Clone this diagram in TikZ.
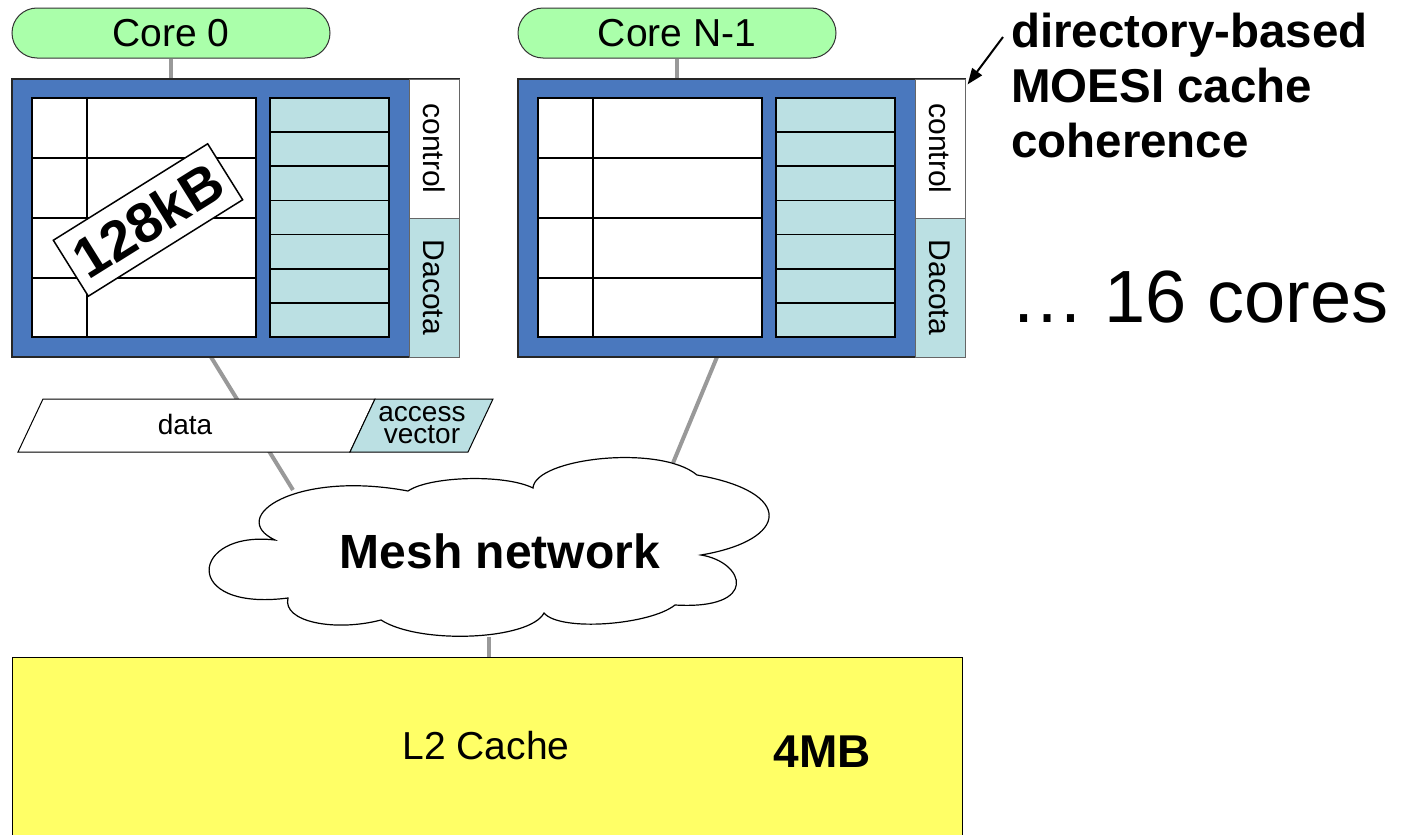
\documentclass[tikz,border=0pt]{standalone}
\usepackage{fontspec}
\setmainfont{Liberation Sans}
\usetikzlibrary{arrows.meta}

\definecolor{coregreen}{HTML}{AAFFAA}
\definecolor{tileblue}{HTML}{4A78BE}
\definecolor{tagteal}{HTML}{BBE0E3}
\definecolor{ltwo}{HTML}{FFFF66}
\definecolor{wire}{HTML}{999999}

\newcommand\fsz[2]{\fontsize{#1}{#2}\selectfont}

\begin{document}
\begin{tikzpicture}[x=1pt,y=-1pt,
  wirelink/.style={draw=wire,line width=4pt},
  corepill/.style={draw=black!80,line width=1pt,fill=coregreen,rounded corners=25pt,
    minimum width=318pt,minimum height=50pt,inner sep=0pt,font=\fsz{39}{47}},
  tile/.style={draw=black!85,fill=tileblue,line width=1.2pt,
    minimum width=447pt,minimum height=278pt,inner sep=0pt},
  gridline/.style={draw=black,line width=1.8pt},
  stripbox/.style={draw=black!60,line width=1pt},
  sidelabel/.style={rotate=-90,font=\fsz{30}{36},inner sep=0pt},
  outline/.style={draw=black,line width=1.2pt},
]
\useasboundingbox (0,0) rectangle (1409,835);

% anchor points of the slanted links
\coordinate (tile0port) at (211,357);
\coordinate (tileNport) at (717,357);
\coordinate (cloudW) at (293,490);
\coordinate (cloudNE) at (673,463);
\coordinate (cloudS) at (489,637);
\coordinate (notetail) at (1003,37);

% links to the network (behind everything)
\draw[wirelink] (tile0port) -- (cloudW);
\draw[wirelink] (tileNport) -- (cloudNE);

% cores
\node[corepill] (core0) at (171,33) {Core 0};
\node[corepill] (coreN) at (677,33) {Core N-1};

% private cache tiles
\node[tile] (tile0) at (235.5,218) {};
\node[tile] (tileN) at (741.5,218) {};
\draw[wirelink] (core0.south) -- (core0.south |- tile0.north);
\draw[wirelink] (coreN.south) -- (coreN.south |- tileN.north);

\foreach \ox in {0,506} {
  \begin{scope}[xshift=\ox pt]
    % control / Dacota strip
    \draw[stripbox,fill=white] (409,79) rectangle (459,218);
    \draw[stripbox,fill=tagteal] (409,218) rectangle (459,357);
    % data array
    \draw[gridline,fill=white] (32,98) rectangle (256,337);
    \draw[gridline] (87,98) -- (87,337);
    \foreach \yy in {158,218,278} \draw[gridline] (32,\yy) -- (256,\yy);
    % access vector column
    \draw[gridline,fill=tagteal] (270,98) rectangle (389,337);
    \foreach \k in {1,...,6} \draw[gridline] (270,{98+\k*34.14}) -- (389,{98+\k*34.14});
  \end{scope}
  \node[sidelabel] (ctl\ox) at (434+\ox,148.5) {control};
  \node[sidelabel] (dac\ox) at (434+\ox,287.5) {Dacota};
}

% capacity tag
\node[draw=black,fill=white,line width=1.5pt,rotate=32,minimum width=182pt,
  minimum height=66pt,inner sep=0pt,font=\bfseries\fsz{56}{64}] (size0) at (148,220) {128kB};

% line layout
\draw[outline,line width=1pt,fill=white] (43,399) -- (375,399) -- (350,452) -- (18,452) -- cycle;
\draw[outline,line width=1pt,fill=tagteal] (375,399) -- (493,399) -- (468,452) -- (350,452) -- cycle;
\node[font=\fsz{28}{22}] (datalbl) at (185,424) {data};
\node[align=center,font=\fsz{28}{22},inner sep=0pt] (avlbl) at (422,425) {access\\vector};

% mesh network cloud
\draw[outline,fill=white]
  (275,540) .. controls (226,517) and (296,470) .. (408,491)
  .. controls (430,476) and (505,474) .. (533,488)
  .. controls (535,458) and (660,444) .. (697,475)
  .. controls (795,492) and (790,540) .. (701,555)
  .. controls (745,562) and (760,610) .. (675,605)
  .. controls (650,625) and (560,632) .. (544,613)
  .. controls (530,640) and (420,645) .. (381,620)
  .. controls (335,632) and (282,622) .. (288,598)
  .. controls (180,612) and (190,530) .. (275,540) -- cycle;
\node[font=\bfseries\fsz{48}{58}] (mesh) at (500,551) {Mesh network};

% shared L2
\draw[wirelink] (cloudS) -- (cloudS |- 0,657);
\node[draw=black,fill=ltwo,line width=1pt,minimum width=950pt,minimum height=190pt,
  anchor=north west,inner sep=0pt] (l2) at (12,657) {};
\node[font=\fsz{39}{47}] (l2lbl) at (486,746) {L2 Cache};
\node[font=\bfseries\fsz{46}{55}] (l2size) at (822,752) {4MB};

% annotations
\draw[-{Triangle[length=16pt,width=12pt]},line width=2pt] (notetail) -- ([shift={(2,6)}]tileN.north east);
\node[anchor=north west,align=left,inner sep=0pt,font=\bfseries\fsz{47.5}{55}] (note) at (1011,13)
  {directory-based\\MOESI cache\\coherence};
\node[anchor=base west,inner sep=0pt,font=\fsz{74}{88}] (count) at (1010,322) {… 16 cores};
\end{tikzpicture}
\end{document}
